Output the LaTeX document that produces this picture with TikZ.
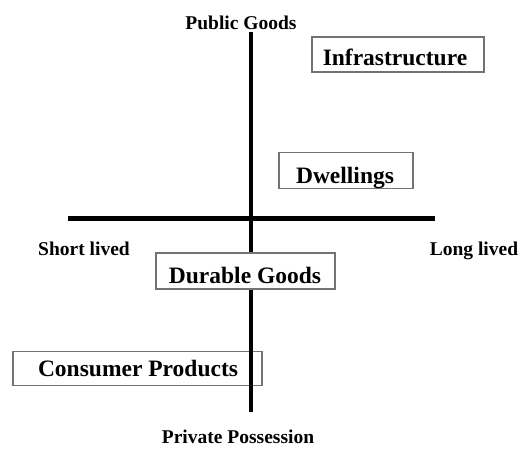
\documentclass[tikz,border=0pt]{standalone}
\usepackage{fontspec}
\setmainfont{Liberation Serif}
\begin{document}
\begin{tikzpicture}[x=1pt,y=-1pt,
  axis/.style={line width=4.5pt,black},
  catbox/.style={draw=black!55,line width=1.2pt,inner sep=0pt},
  boxtext/.style={font=\bfseries\fontsize{23.5}{26}\selectfont,anchor=base,inner sep=0pt},
  axislabel/.style={font=\bfseries\fontsize{19.5}{22}\selectfont,anchor=base,inner sep=0pt}]
  \useasboundingbox (0,0) rectangle (520,450);

  % box lying under the vertical axis
  \node[catbox,minimum width=249pt,minimum height=34pt] (consbox) at (137.5,368.5) {};
  \node[boxtext] (cons) at (138,376) {Consumer Products};

  % axes
  \coordinate (top) at (251,32);
  \coordinate (bottom) at (251,412);
  \coordinate (left) at (68,218.5);
  \coordinate (right) at (435,218.5);
  \draw[axis] (top) -- (bottom);
  \draw[axis] (left) -- (right);

  % axis labels
  \node[axislabel] (pub) at (241,29) {Public Goods};
  \node[axislabel] (priv) at (238,443) {Private Possession};
  \node[axislabel] (short) at (84,255) {Short lived};
  \node[axislabel] (long) at (474,255) {Long lived};

  % category boxes
  \node[catbox,minimum width=172pt,minimum height=35pt] (infrabox) at (398,54.5) {};
  \node[boxtext] (infra) at (395,65) {Infrastructure};
  \node[catbox,minimum width=134pt,minimum height=36pt] (dwellbox) at (346,170.5) {};
  \node[boxtext] (dwell) at (345,183) {Dwellings};
  \node[catbox,fill=white,minimum width=179pt,minimum height=36pt] (durbox) at (245.5,271) {};
  \node[boxtext] (dur) at (245,283) {Durable Goods};
\end{tikzpicture}
\end{document}
